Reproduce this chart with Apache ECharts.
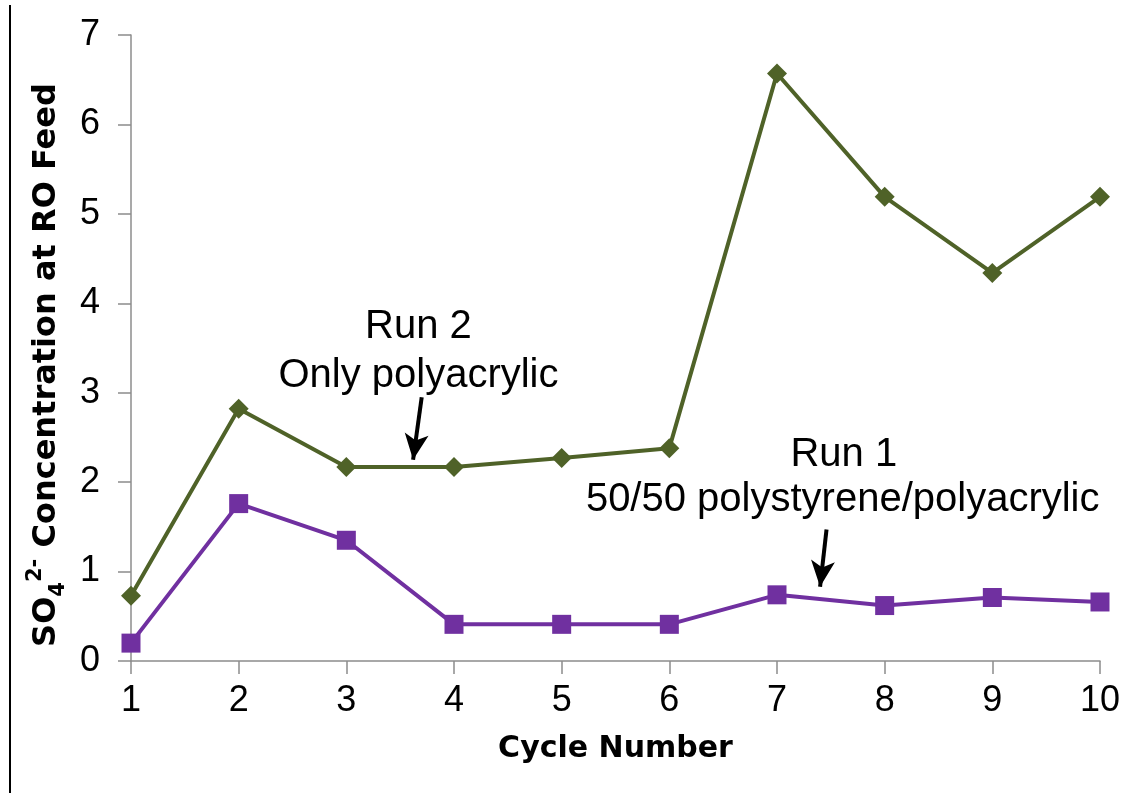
<!DOCTYPE html>
<html>
<head>
<meta charset="utf-8">
<script src="https://cdn.jsdelivr.net/npm/echarts@6/dist/echarts.min.js"></script>
<style>
  html, body { margin: 0; padding: 0; background: #fff; }
  #main { width: 1131px; height: 793px; }
</style>
</head>
<body>
<div id="main"></div>
<script>
// cycle numbers and SO4 concentration
var cycles = [1, 2, 3, 4, 5, 6, 7, 8, 9, 10];
var run2 = [0.73, 2.82, 2.17, 2.17, 2.27, 2.38, 6.57, 5.19, 4.34, 5.19];
var run1 = [0.20, 1.76, 1.35, 0.41, 0.41, 0.41, 0.74, 0.62, 0.71, 0.66];
var yTicks = [0, 1, 2, 3, 4, 5, 6, 7];

function pairs(ys) {
	return cycles.map(function (c, i) { return [c, ys[i]]; });
}

var axisGray = '#8c8c8c';
var tickFont = { fontFamily: 'Liberation Sans', fontSize: 36, color: '#000' };

var myChart = echarts.init(document.getElementById('main'));

var option = {
	animation: false,
	backgroundColor: '#fff',
	grid: { left: 131, right: 31, top: 35, bottom: 132 },
	xAxis: {
		type: 'value',
		min: 1, max: 10, interval: 1,
		name: 'Cycle Number',
		nameLocation: 'middle',
		nameGap: 73,
		nameTextStyle: { fontFamily: 'DejaVu Sans', fontWeight: 'bold', fontSize: 30, color: '#000' },
		axisLine: { lineStyle: { color: axisGray, width: 1.5 } },
		axisTick: { show: true, length: 13, lineStyle: { color: axisGray, width: 1.5 } },
		axisLabel: Object.assign({ margin: 22 }, tickFont),
		splitLine: { show: false }
	},
	yAxis: {
		type: 'value',
		min: yTicks[0], max: yTicks[yTicks.length - 1], interval: 1,
		name: '{b|SO}{sub|4}{sup|2-}{b| Concentration at RO Feed}',
		nameLocation: 'middle',
		nameGap: 56,
		nameTextStyle: {
			padding: [0, 34, 0, 0],
			rich: {
				b: { fontFamily: 'DejaVu Sans', fontWeight: 'bold', fontSize: 32, color: '#000', lineHeight: 44 },
				sub: { fontFamily: 'DejaVu Sans', fontWeight: 'bold', fontSize: 21, color: '#000', verticalAlign: 'bottom', lineHeight: 44 },
				sup: { fontFamily: 'DejaVu Sans', fontWeight: 'bold', fontSize: 21, color: '#000', verticalAlign: 'top', lineHeight: 44 }
			}
		},
		axisLine: { show: true, lineStyle: { color: axisGray, width: 1.5 } },
		axisTick: { show: true, length: 13, lineStyle: { color: axisGray, width: 1.5 } },
		axisLabel: Object.assign({ margin: 31 }, tickFont),
		splitLine: { show: false }
	},
	series: [
		{
			name: 'Run 2',
			type: 'line',
			data: pairs(run2),
			symbol: 'diamond',
			symbolSize: 20,
			itemStyle: { color: '#4f6228' },
			lineStyle: { color: '#4f6228', width: 4 },
			markLine: {
				silent: true,
				symbol: ['none', 'arrow'],
				symbolSize: [18, 26],
				label: { show: false },
				lineStyle: { color: '#000', width: 4, type: 'solid' },
				data: [[{ coord: [3.70, 2.95] }, { coord: [3.62, 2.25] }]]
			}
		},
		{
			name: 'Run 1',
			type: 'line',
			data: pairs(run1),
			symbol: 'rect',
			symbolSize: 19,
			itemStyle: { color: '#7030a0' },
			lineStyle: { color: '#7030a0', width: 4 },
			markLine: {
				silent: true,
				symbol: ['none', 'arrow'],
				symbolSize: [18, 26],
				label: { show: false },
				lineStyle: { color: '#000', width: 4, type: 'solid' },
				data: [[{ coord: [7.46, 1.47] }, { coord: [7.40, 0.83] }]]
			}
		}
	],
	graphic: [
		{ type: 'line', shape: { x1: 10, y1: 5, x2: 10, y2: 793 }, style: { stroke: '#000', lineWidth: 2 } }
	]
};
myChart.setOption(option);

// annotation texts placed by data coordinates
function note(txt, coord) {
	var p = myChart.convertToPixel({ gridIndex: 0 }, coord);
	return {
		type: 'text', x: p[0], y: p[1],
		style: { text: txt, fontFamily: 'Liberation Sans', fontSize: 40, fill: '#000', align: 'center', verticalAlign: 'middle' }
	};
}
myChart.setOption({
	graphic: [
		{ type: 'line', shape: { x1: 10, y1: 5, x2: 10, y2: 793 }, style: { stroke: '#000', lineWidth: 2 } },
		note('Run 2', [3.67, 3.73]),
		note('Only polyacrylic', [3.67, 3.19]),
		note('Run 1', [7.62, 2.30]),
		note('50/50 polystyrene/polyacrylic', [7.61, 1.80])
	]
});
</script>
</body>
</html>
